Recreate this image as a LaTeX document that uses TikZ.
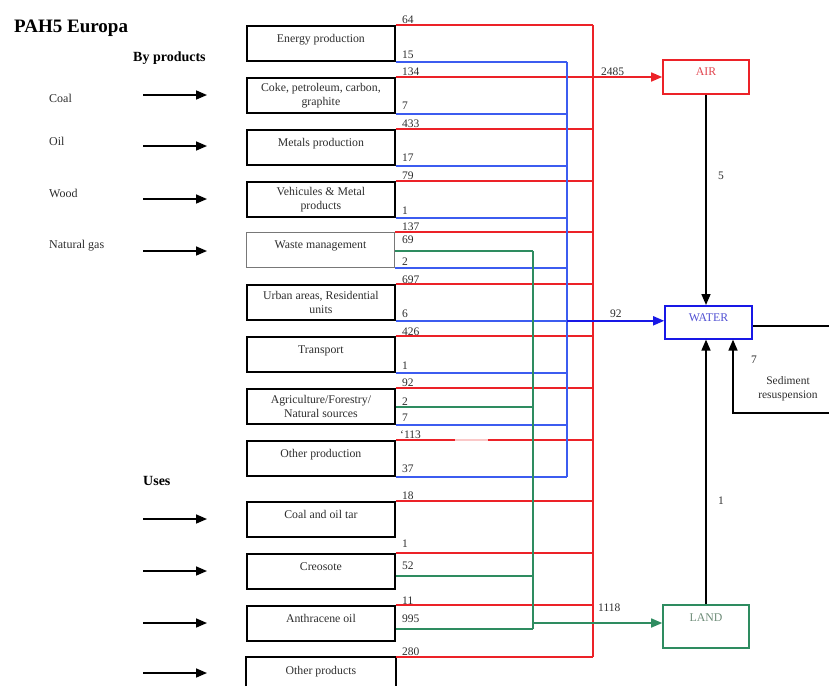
\documentclass[tikz,border=0pt]{standalone}
\usepackage{fontspec}
\setmainfont{Liberation Serif}[BoldFont={Liberation Serif Bold}]
\usetikzlibrary{arrows.meta,calc}
\definecolor{redl}{RGB}{236,34,40}
\definecolor{bluel}{RGB}{60,92,240}
\definecolor{greenl}{RGB}{46,140,96}
\definecolor{waterb}{RGB}{24,24,230}
\definecolor{txt}{RGB}{45,45,45}
\definecolor{airtxt}{RGB}{225,70,80}
\definecolor{watertxt}{RGB}{80,80,210}
\definecolor{landtxt}{RGB}{110,140,120}
\definecolor{pinkgap}{RGB}{250,200,200}
\begin{document}
\begin{tikzpicture}[x=1pt,y=-1pt,
  font=\fontsize{11.8}{13.8}\selectfont, text=txt,
  srcbox/.style={draw=black, line width=1.8pt, minimum width=148pt, minimum height=35pt,
    inner sep=0pt, anchor=north west, align=center},
  oneline/.style={text height=7.5pt, text depth=10pt},
  wastebox/.style={srcbox, draw={rgb,255:red,120;green,120;blue,120}, line width=1pt},
  sinkbox/.style={line width=1.6pt, minimum width=86pt, minimum height=34pt, inner sep=0pt},
  numlbl/.style={anchor=west, inner sep=0pt, font=\fontsize{11.5}{13}\selectfont},
  sidelbl/.style={anchor=west, inner sep=0pt, font=\fontsize{12}{13}\selectfont},
  headlbl/.style={anchor=west, inner sep=0pt, text=black},
  redw/.style={draw=redl, line width=1.6pt},
  bluew/.style={draw=bluel, line width=1.6pt},
  greenw/.style={draw=greenl, line width=1.6pt},
  blk/.style={draw=black, line width=1.6pt},
  tip/.style={-{Triangle[length=11pt,width=9pt]}},
]
\useasboundingbox (0,0) rectangle (829,686);
\coordinate (bot) at (0,686);
% bus x positions
\coordinate (rb) at (593,0);
\coordinate (bb) at (567,0);
\coordinate (gb) at (533,0);

% titles
\node[headlbl, font=\fontsize{19}{22}\selectfont\bfseries] (title) at (14,28) {PAH5 Europa};
\node[headlbl, font=\fontsize{14}{16}\selectfont\bfseries] (byprod) at (133,58) {By products};
\node[headlbl, font=\fontsize{14}{16}\selectfont\bfseries] (uses) at (143,481) {Uses};

\node[sidelbl] (coal) at (49,98) {Coal};
\node[sidelbl] (oil) at (49,141) {Oil};
\node[sidelbl] (wood) at (49,193) {Wood};
\node[sidelbl] (gas) at (49,246) {Natural gas};

% left arrows
\foreach \i/\y in {1/95,2/146,3/199,4/251,5/519,6/571,7/623,8/673}{
  \coordinate (la\i) at (143,\y);
  \coordinate (lb\i) at (207,\y);
  \draw[blk,tip] (la\i) -- (lb\i);
}

% source boxes
\node[srcbox,oneline] (b1) at (246,25) {Energy production};
\node[srcbox] (b2) at (246,77) {Coke, petroleum, carbon,\\graphite};
\node[srcbox,oneline] (b3) at (246,129) {Metals production};
\node[srcbox] (b4) at (246,181) {Vehicules \& Metal\\products};
\node[wastebox,oneline] (b5) at (246,232) {Waste management};
\node[srcbox] (b6) at (246,284) {Urban areas, Residential\\units};
\node[srcbox,oneline] (b7) at (246,336) {Transport};
\node[srcbox] (b8) at (246,388) {Agriculture/Forestry/\\Natural sources};
\node[srcbox,oneline] (b9) at (246,440) {Other production};
\node[srcbox,oneline] (b10) at (246,501) {Coal and oil tar};
\node[srcbox,oneline] (b11) at (246,553) {Creosote};
\node[srcbox,oneline] (b12) at (246,605) {Anthracene oil};
\node[srcbox,oneline,draw=none] (b13) at (246,657) {Other products};
\draw[draw=black, line width=1.8pt] (b13.west |- bot) -- (b13.north west) -- (b13.north east) -- (b13.east |- bot);

% sink boxes
\node[sinkbox, draw=redl, text=airtxt, text depth=10.6pt] (air) at (706,77) {AIR};
\node[sinkbox, draw=waterb, text=watertxt, text depth=10pt, minimum width=87pt, minimum height=33pt] (water) at (708.5,322.3) {WATER};
\node[sinkbox, draw=greenl, text=landtxt, text depth=18pt, minimum height=43pt] (land) at (706,626.5) {LAND};

% red (air) lines
\foreach \b in {b1,b2,b3,b4,b5,b6,b7,b8,b9,b10,b11,b12,b13}{
  \draw[redw] (\b.north east) -- (rb |- \b.north east);
}
\draw[redw] (rb |- b1.north) -- (rb |- b13.north);
\draw[redw,tip] (rb |- b2.north) -- (air.west);
\coordinate (gap1) at (455,440);
\coordinate (gap2) at (488,440);
\draw[draw=pinkgap, line width=1.6pt] (gap1) -- (gap2);

% blue (water) lines
\foreach \b in {b1,b2,b3,b4,b5,b6,b7,b8,b9}{
  \draw[bluew] (\b.south east) -- (bb |- \b.south east);
}
\draw[bluew] (bb |- b1.south) -- (bb |- b9.south);
\coordinate (wl) at (water.west |- b6.south);
\draw[draw=waterb, line width=1.6pt, tip] (bb |- b6.south) -- (wl);

% green (land) lines
\coordinate (g1) at ($(b5.north east)+(0,19)$);
\coordinate (g2) at ($(b8.north east)+(0,18.7)$);
\coordinate (g3) at ($(b11.north east)+(0,22.7)$);
\coordinate (g4) at ($(b12.north east)+(0,24)$);
\foreach \g in {g1,g2,g3,g4}{
  \draw[greenw] (\g) -- (gb |- \g);
}
\draw[greenw] (gb |- g1) -- (gb |- g4);
\coordinate (g5) at (533,623);
\coordinate (g6) at (land.west |- g5);
\draw[greenw,tip] (g5) -- (g6);

% number labels
\node[numlbl] (n1) at (402,20) {64};
\node[numlbl] (n2) at (402,55) {15};
\node[numlbl] (n3) at (402,72) {134};
\node[numlbl] (n4) at (402,106) {7};
\node[numlbl] (n5) at (402,124) {433};
\node[numlbl] (n6) at (402,158) {17};
\node[numlbl] (n7) at (402,176) {79};
\node[numlbl] (n8) at (402,210.5) {1};
\node[numlbl] (n9) at (402,227) {137};
\node[numlbl] (n10) at (402,240) {69};
\node[numlbl] (n11) at (402,262) {2};
\node[numlbl] (n12) at (402,280) {697};
\node[numlbl] (n13) at (402,314) {6};
\node[numlbl] (n14) at (402,332) {426};
\node[numlbl] (n15) at (402,366) {1};
\node[numlbl] (n16) at (402,383) {92};
\node[numlbl] (n17) at (402,401.5) {2};
\node[numlbl] (n18) at (402,418) {7};
\node[numlbl] (n19) at (400,435) {‘113};
\node[numlbl] (n20) at (402,469) {37};
\node[numlbl] (n21) at (402,496) {18};
\node[numlbl] (n22) at (402,544) {1};
\node[numlbl] (n23) at (402,566) {52};
\node[numlbl] (n24) at (402,601) {11};
\node[numlbl] (n25) at (402,619) {995};
\node[numlbl] (n26) at (402,652) {280};

\node[numlbl] (f1) at (601,71.5) {2485};
\node[numlbl] (f2) at (610,314) {92};
\node[numlbl] (f3) at (598,608) {1118};

% inter-compartment flows
\draw[blk,tip] (air.south) -- (air.south |- water.north);
\node[numlbl] (f4) at (718,176) {5};
\draw[blk,tip] (land.north) -- (land.north |- water.south);
\node[numlbl] (f5) at (718,501) {1};

\coordinate (sy) at (0,326);
\coordinate (s0) at (water.east |- sy);
\coordinate (s1) at (829,326);
\coordinate (s2) at (829,412.7);
\coordinate (s3) at (733,412.7);
\draw[draw=black, line width=1.4pt] (s0) -- (s1);
\draw[blk,tip] (s2) -- (s3) -- (s3 |- water.south);
\node[numlbl] (f6) at (751,360) {7};
\node[align=center, inner sep=0pt, font=\fontsize{11.5}{14}\selectfont] (sed) at (788,389) {Sediment\\resuspension};
\end{tikzpicture}
\end{document}
